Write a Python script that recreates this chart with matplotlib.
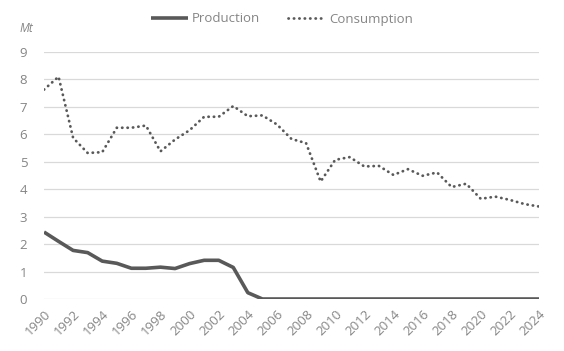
import matplotlib
matplotlib.use("Agg")
import matplotlib.pyplot as plt

years = list(range(1990, 2025))
production = [2.44, 2.1, 1.77, 1.69, 1.38, 1.30, 1.12, 1.12, 1.16, 1.11, 1.29, 1.41, 1.41, 1.15, 0.23, 0.0,
              0, 0, 0, 0, 0, 0, 0, 0, 0, 0, 0, 0, 0, 0, 0, 0, 0, 0, 0]
consumption = [7.63, 8.1, 5.87, 5.32, 5.35, 6.24, 6.24, 6.32, 5.38, 5.81, 6.15, 6.64, 6.64, 7.03, 6.66, 6.69,
               6.36, 5.83, 5.68, 4.28, 5.07, 5.17, 4.83, 4.85, 4.52, 4.73, 4.49, 4.61, 4.08, 4.2, 3.65, 3.73,
               3.61, 3.46, 3.37]
tick_years = list(range(1990, 2025, 2))

plt.rcParams['font.family'] = ['Open Sans', 'DejaVu Sans']
txt = '#858585'
fig = plt.figure(figsize=(5.64, 3.51), dpi=100)
ax = fig.add_axes([44/564, 1-299/351, (539-44)/564, (299-52)/351])

ax.plot(years, production, color='#595959', lw=2.6, label='Production', solid_capstyle='butt')
ax.plot(years, consumption, color='#595959', lw=2.0, linestyle=(0, (0.1, 1.85)), dash_capstyle='round', label='Consumption')

ax.set_xlim(1990, 2024)
ax.set_ylim(0, 9)
ax.set_yticks(range(0, 10))
ax.set_xticks(tick_years)
ax.set_xticklabels([str(y) for y in tick_years], rotation=45, ha='right', rotation_mode='anchor')
ax.grid(axis='y', color='#d9d9d9', lw=0.9)
ax.set_axisbelow(True)
for s in ax.spines.values():
    s.set_visible(False)
ax.tick_params(axis='both', length=0, colors=txt, labelsize=9.5)
ax.tick_params(axis='y', pad=12)
ax.tick_params(axis='x', pad=6)
fig.text(20/564, 1-29/351, 'Mt', color=txt, fontsize=8.5, style='italic', va='center', ha='left')

leg = fig.legend(loc='center', bbox_to_anchor=(0.5, 1-19/351), ncol=2, frameon=False,
                 fontsize=9.5, handlelength=2.8, handletextpad=0.3, columnspacing=2.1)
for t in leg.get_texts():
    t.set_color(txt)

fig.savefig('out.png', dpi=100)
